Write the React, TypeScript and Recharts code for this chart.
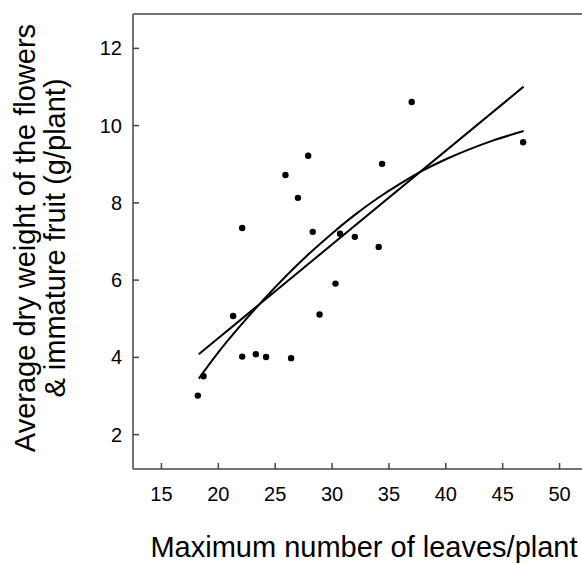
import React from "react";
import {
  ComposedChart,
  Scatter,
  Line,
  XAxis,
  YAxis,
  Label,
} from "recharts";

// observed plants: max leaves vs. dry weight of flowers & immature fruit
const leaves = [18.2, 18.7, 21.3, 22.1, 22.1, 23.3, 24.2, 25.9, 26.4, 27.0, 27.9, 28.3, 28.9, 30.3, 30.7, 32.0, 34.1, 34.4, 37.0, 46.8];
const weight = [3.01, 3.51, 5.07, 4.02, 7.35, 4.08, 4.01, 8.72, 3.98, 8.13, 9.22, 7.25, 5.11, 5.91, 7.2, 7.12, 6.86, 9.01, 10.61, 9.57];

// linear fit (ends)
const linX = [18.28, 46.84];
const linY = [4.08, 11.01];

// quadratic fit, sampled off the plot
const quadX = [18.28, 20, 22, 24, 26, 28, 30, 32, 34, 36, 38, 40, 42, 44, 46.84];
const quadY = [3.45, 4.13, 4.84, 5.5, 6.12, 6.69, 7.21, 7.69, 8.12, 8.5, 8.84, 9.13, 9.38, 9.6, 9.86];

const xTicks = [15, 20, 25, 30, 35, 40, 45, 50];
const yTicks = [2, 4, 6, 8, 10, 12];

const points = leaves.map((x, i) => ({ x, y: weight[i] }));
const linData = linX.map((x, i) => ({ x, y: linY[i] }));
const quadData = quadX.map((x, i) => ({ x, y: quadY[i] }));

const AXIS = "#444";
const FONT = "'Liberation Sans', Arial, sans-serif";

// the figure runs right to the window edge, so drop the body margin
if (typeof document !== "undefined") document.body.style.margin = "0";

const Dot = (p: any) => <circle cx={p.cx} cy={p.cy} r={3.2} fill="#000" />;

const YTitle = () => (
  <text
    transform="translate(35, 238) rotate(-90)"
    textAnchor="middle"
    fontFamily={FONT}
    fontSize={29}
    fill="#000"
  >
    <tspan x={0} y={0}>Average dry weight of the flowers</tspan>
    <tspan x={0} y={30}>&amp; immature fruit (g/plant)</tspan>
  </text>
);

const XTitle = () => (
  <text x={364} y={557} textAnchor="middle" fontFamily={FONT} fontSize={29} fill="#000">
    Maximum number of leaves/plant
  </text>
);

export default function App() {
  const tickStyle = { fontFamily: FONT, fontSize: 20, fill: "#000" };
  return (
    <div style={{ width: 582, height: 564, overflow: "hidden" }}>
      <ComposedChart
        width={600}
        height={564}
        margin={{ top: 13, right: 12, bottom: 0, left: 0 }}
      >
        <XAxis
          dataKey="x"
          type="number"
          domain={[12.5, 52.5]}
          ticks={xTicks}
          allowDataOverflow
          height={95}
          stroke={AXIS}
          strokeWidth={1.5}
          tickSize={-6}
          tickMargin={24}
          tick={tickStyle}
        >
          <Label content={() => <XTitle />} />
        </XAxis>
        <XAxis
          xAxisId="top"
          orientation="top"
          dataKey="x"
          type="number"
          domain={[12.5, 52.5]}
          ticks={xTicks}
          height={1}
          stroke={AXIS}
          strokeWidth={1.5}
          tickSize={-6}
          tick={false}
        />
        <YAxis
          type="number"
          domain={[1.11, 12.89]}
          ticks={yTicks}
          allowDataOverflow
          width={133}
          stroke={AXIS}
          strokeWidth={1.5}
          tickSize={-6}
          tickMargin={17}
          tick={tickStyle}
        >
          <Label content={() => <YTitle />} />
        </YAxis>
        <Line
          data={linData}
          dataKey="y"
          type="linear"
          stroke="#000"
          strokeWidth={2}
          dot={false}
          isAnimationActive={false}
        />
        <Line
          data={quadData}
          dataKey="y"
          type="monotone"
          stroke="#000"
          strokeWidth={2}
          dot={false}
          isAnimationActive={false}
        />
        <Scatter data={points} dataKey="y" shape={Dot} isAnimationActive={false} />
      </ComposedChart>
    </div>
  );
}
